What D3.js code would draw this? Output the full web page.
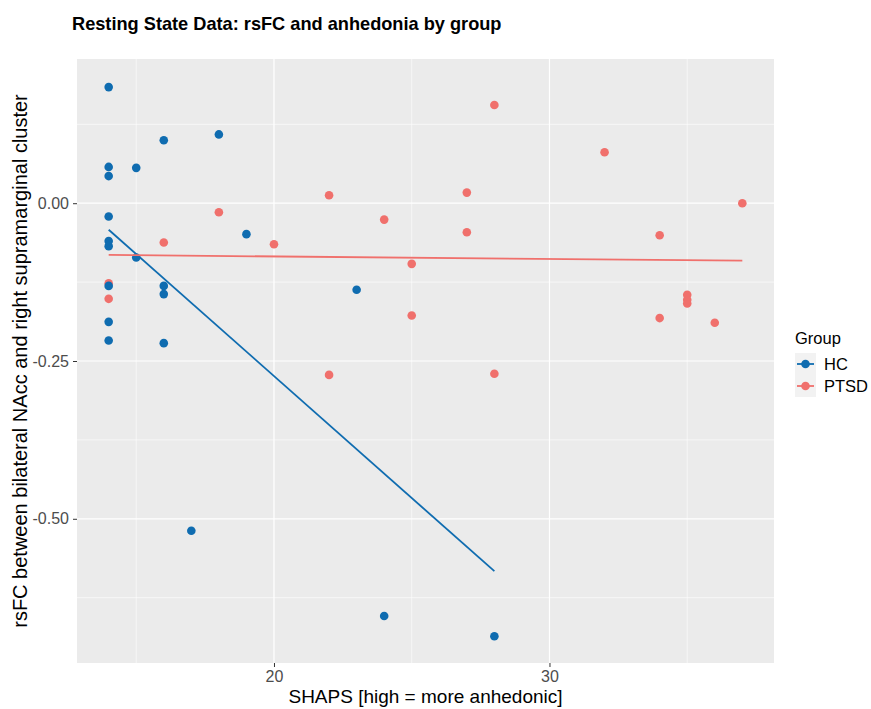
<!DOCTYPE html>
<html>
<head>
<meta charset="utf-8">
<script src="https://cdn.jsdelivr.net/npm/d3@7"></script>
<style>
  body { margin: 0; background: #fff; }
  svg { display: block; font-family: "Liberation Sans", Arial, sans-serif; }
</style>
</head>
<body>
<div id="chart"></div>
<script>
// SHAPS score and rsFC value per participant, by group
const hcShaps = [14, 14, 14, 14, 14, 14, 14, 14, 14, 15, 15, 16, 16, 16, 16, 17, 18, 19, 23, 24, 28]
const hcRsfc = [0.184, 0.0575, 0.043, -0.021, -0.060, -0.068, -0.131, -0.188, -0.2175, 0.056, -0.086,
  0.0997, -0.131, -0.144, -0.2217, -0.519, 0.109, -0.049, -0.137, -0.654, -0.686]

const ptsdShaps = [14, 14, 16, 18, 20, 22, 22, 24, 25, 25, 27, 27, 28, 28, 32, 34, 34, 35, 35, 35, 36, 37]
const ptsdRsfc = [-0.127, -0.1515, -0.0623, -0.0143, -0.065, 0.0127, -0.272, -0.026, -0.0961, -0.178,
  0.0168, -0.046, 0.1556, -0.2703, 0.0807, -0.0507, -0.182, -0.145, -0.153, -0.159, -0.1895, 0.0]

// lm fit end points
const hcFitX = [14, 28]
const hcFitY = [-0.042, -0.583]
const ptsdFitX = [14, 37]
const ptsdFitY = [-0.082, -0.091]

const groups = ["HC", "PTSD"]
const xMajor = [20, 30]
const xMinor = [15, 25, 35]
const yMajor = [0, -0.25, -0.5]
const yMinor = [0.125, -0.125, -0.375, -0.625]

const width = 871
const height = 709
const panel = {left: 77, top: 59, right: 774, bottom: 663}
const colors = {HC: "#0f6cb0", PTSD: "#f0706c"}
const pointRadius = 4.3

const svg = d3.select("#chart").append("svg")
  .attr("width", width)
  .attr("height", height)

const xScale = d3.scaleLinear().domain([12.85, 38.15]).range([panel.left, panel.right])
const yScale = d3.scaleLinear().domain([-0.7285, 0.2285]).range([panel.bottom, panel.top])

// panel background + grid
svg.append("rect")
  .attr("x", panel.left)
  .attr("y", panel.top)
  .attr("width", panel.right - panel.left)
  .attr("height", panel.bottom - panel.top)
  .attr("fill", "#ebebeb")

const grid = svg.append("g")
grid.selectAll(".x-minor").data(xMinor).enter().append("line")
  .attr("x1", d => xScale(d)).attr("x2", d => xScale(d))
  .attr("y1", panel.top).attr("y2", panel.bottom)
  .attr("stroke", "#fff").attr("stroke-width", 0.6)
grid.selectAll(".y-minor").data(yMinor).enter().append("line")
  .attr("x1", panel.left).attr("x2", panel.right)
  .attr("y1", d => yScale(d)).attr("y2", d => yScale(d))
  .attr("stroke", "#fff").attr("stroke-width", 0.6)
grid.selectAll(".x-major").data(xMajor).enter().append("line")
  .attr("x1", d => xScale(d)).attr("x2", d => xScale(d))
  .attr("y1", panel.top).attr("y2", panel.bottom)
  .attr("stroke", "#fff").attr("stroke-width", 1.2)
grid.selectAll(".y-major").data(yMajor).enter().append("line")
  .attr("x1", panel.left).attr("x2", panel.right)
  .attr("y1", d => yScale(d)).attr("y2", d => yScale(d))
  .attr("stroke", "#fff").attr("stroke-width", 1.2)

// axes
const xAxis = svg.append("g")
  .attr("transform", `translate(0, ${panel.bottom})`)
  .call(d3.axisBottom(xScale).tickValues(xMajor).tickSize(4).tickPadding(4).tickFormat(d3.format("d")))
const yAxis = svg.append("g")
  .attr("transform", `translate(${panel.left}, 0)`)
  .call(d3.axisLeft(yScale).tickValues(yMajor).tickSize(4).tickPadding(4).tickFormat(d3.format(".2f")))

for (const axis of [xAxis, yAxis]) {
  axis.select(".domain").remove()
  axis.selectAll(".tick line").attr("stroke", "#333").attr("stroke-width", 1)
  axis.selectAll(".tick text")
    .attr("fill", "#4d4d4d")
    .style("font-size", "16px")
    .style("font-family", "Liberation Sans, Arial, sans-serif")
}
yAxis.selectAll(".tick text").text(d => d3.format(".2f")(d).replace("−", "-"))

// fitted lines
const line = d3.line().x(d => xScale(d[0])).y(d => yScale(d[1]))
const fits = [
  {group: "HC", pts: d3.zip(hcFitX, hcFitY)},
  {group: "PTSD", pts: d3.zip(ptsdFitX, ptsdFitY)}
]

// points (PTSD drawn first, HC on top)
const points = svg.append("g")
points.selectAll(".ptsd-dot")
  .data(d3.zip(ptsdShaps, ptsdRsfc))
  .enter().append("circle")
  .attr("cx", d => xScale(d[0]))
  .attr("cy", d => yScale(d[1]))
  .attr("r", pointRadius)
  .attr("fill", colors.PTSD)
points.selectAll(".hc-dot")
  .data(d3.zip(hcShaps, hcRsfc))
  .enter().append("circle")
  .attr("cx", d => xScale(d[0]))
  .attr("cy", d => yScale(d[1]))
  .attr("r", pointRadius)
  .attr("fill", colors.HC)

svg.append("g").selectAll("path")
  .data(fits)
  .enter().append("path")
  .attr("d", d => line(d.pts))
  .attr("fill", "none")
  .attr("stroke", d => colors[d.group])
  .attr("stroke-width", 1.8)

// title + axis titles
svg.append("text")
  .attr("x", 72)
  .attr("y", 30)
  .attr("font-size", "18.2px")
  .attr("font-weight", "bold")
  .attr("fill", "#000")
  .text("Resting State Data: rsFC and anhedonia by group")

svg.append("text")
  .attr("x", (panel.left + panel.right) / 2)
  .attr("y", 703)
  .attr("text-anchor", "middle")
  .attr("font-size", "19px")
  .attr("fill", "#000")
  .text("SHAPS [high = more anhedonic]")

svg.append("text")
  .attr("transform", `translate(27, ${(panel.top + panel.bottom) / 2}) rotate(-90)`)
  .attr("text-anchor", "middle")
  .attr("font-size", "20px")
  .attr("fill", "#000")
  .text("rsFC between bilateral NAcc and right supramarginal cluster")

// legend
const legend = svg.append("g").attr("transform", "translate(795, 0)")
legend.append("text")
  .attr("x", 0)
  .attr("y", 344)
  .attr("font-size", "16.5px")
  .attr("fill", "#000")
  .text("Group")

const keys = legend.selectAll(".key")
  .data(groups)
  .enter().append("g")
  .attr("transform", (d, i) => `translate(0, ${353 + i * 22})`)
keys.append("rect")
  .attr("width", 21).attr("height", 22)
  .attr("fill", "#f2f2f2")
keys.append("line")
  .attr("x1", 2).attr("x2", 19)
  .attr("y1", 11).attr("y2", 11)
  .attr("stroke", d => colors[d]).attr("stroke-width", 1.8)
keys.append("circle")
  .attr("cx", 10.5).attr("cy", 11).attr("r", pointRadius)
  .attr("fill", d => colors[d])
keys.append("text")
  .attr("x", 29)
  .attr("y", 17)
  .attr("font-size", "16.5px")
  .attr("fill", "#000")
  .text(d => d)
</script>
</body>
</html>
